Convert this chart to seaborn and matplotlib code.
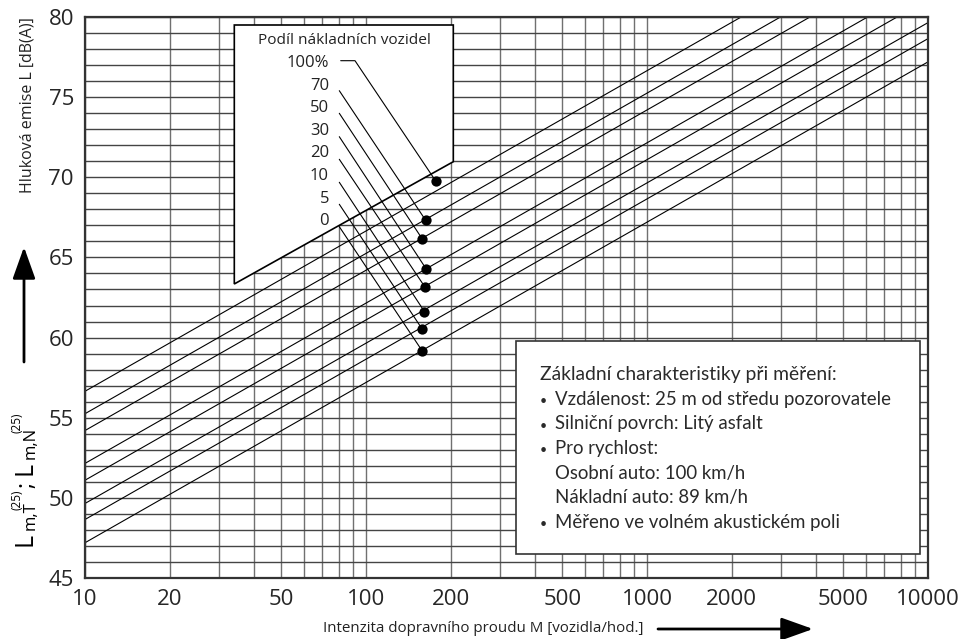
import numpy as np
import pandas as pd
import matplotlib
matplotlib.use('Agg')
import matplotlib.pyplot as plt
import seaborn as sns
from matplotlib.patches import Polygon, Rectangle
from matplotlib.ticker import FixedLocator, LogLocator, MultipleLocator, NullFormatter

# truck share of each line (bottom line -> top line)
shares = [0, 5, 10, 20, 30, 50, 70, 100]
share_labels = ['0', '5', '10', '20', '30', '50', '70', '100%']

# line end points
m_ends = [10, 10000]
level_at_10 = [47.2, 48.65, 49.65, 51.1, 52.15, 54.2, 55.25, 56.65]
level_at_10000 = [77.2, 78.65, 79.65, 81.1, 82.15, 84.2, 85.25, 86.65]

# marked points
dot_m = [158.6, 158.6, 161.5, 162.0, 163.5, 158.6, 163.0, 177.0]
dot_l = [59.16, 60.52, 61.62, 63.16, 64.30, 66.15, 67.32, 69.77]

x_ticks = [10, 20, 50, 100, 200, 500, 1000, 2000, 5000, 10000]
y_ticks = [45, 50, 55, 60, 65, 70, 75, 80]

info_title = 'Základní charakteristiky při měření:'
info_lines = [
    ('•', 'Vzdálenost: 25 m od středu pozorovatele'),
    ('•', 'Silniční povrch: Litý asfalt'),
    ('•', 'Pro rychlost:'),
    ('', 'Osobní auto: 100 km/h'),
    ('', 'Nákladní auto: 89 km/h'),
    ('•', 'Měřeno ve volném akustickém poli'),
]

rows = []
for s, a, b in zip(shares, level_at_10, level_at_10000):
    rows.append({'share': s, 'M': m_ends[0], 'L': a})
    rows.append({'share': s, 'M': m_ends[1], 'L': b})
df = pd.DataFrame(rows)

sns.set_theme(style='white')
plt.rcParams['font.family'] = ['Open Sans', 'DejaVu Sans']

W, H = 963, 639
fig = plt.figure(figsize=(W / 100, H / 100), dpi=100)
ax = fig.add_axes([85 / W, 1 - 578 / H, 843 / W, 561 / H])

# pixel helpers (image coords, origin top-left)
def px2data(px, py):
    return 10 ** (1 + (px - 85) / 281.0), 80 - (py - 17) / 16.03

def fx(px):
    return px / W

def fy(py):
    return 1 - py / H

sns.lineplot(data=df, x='M', y='L', units='share', estimator=None,
             color='black', linewidth=0.8, ax=ax, legend=False, zorder=2)

ax.set_xscale('log')
ax.set_xlim(10, 10000)
ax.set_ylim(45, 80)
ax.xaxis.set_major_locator(FixedLocator(x_ticks))
ax.xaxis.set_major_formatter(matplotlib.ticker.FixedFormatter([str(t) for t in x_ticks]))
ax.xaxis.set_minor_locator(LogLocator(base=10, subs=np.arange(1, 10)))
ax.xaxis.set_minor_formatter(NullFormatter())
ax.yaxis.set_major_locator(FixedLocator(y_ticks))
ax.yaxis.set_minor_locator(MultipleLocator(1))
ax.set_axisbelow(True)
ax.grid(axis='x', which='both', color='#707070', linewidth=1.0)
ax.grid(axis='y', which='both', color='#444444', linewidth=1.0)
ax.tick_params(which='both', length=0)
ax.tick_params(axis='x', labelsize=16, pad=8)
ax.tick_params(axis='y', labelsize=16, pad=8)
ax.set_xlabel('')
ax.set_ylabel('')
for sp in ax.spines.values():
    sp.set_color('#333333')
    sp.set_linewidth(1.6)

# white inset with the truck share labels
corners = [px2data(234.3, 25), px2data(453.3, 25), px2data(453.3, 161.7), px2data(234.3, 284)]
ax.add_patch(Polygon(corners, closed=True, facecolor='white', edgecolor='black',
                     linewidth=1.2, zorder=4))
tx, ty = px2data(344, 41)
ax.text(tx, ty, 'Podíl nákladních vozidel', ha='center', va='center', fontsize=11.1,
        color='#222222', zorder=5)

label_py = [220.7, 198.7, 176, 153.3, 130.7, 108.3, 86, 63.3]
leader_py = [226.7, 204.3, 182.3, 159.3, 136.7, 113.3, 90.7, 60.7]
for lab, lpy, spy, m, l in zip(share_labels, label_py, leader_py, dot_m, dot_l):
    lx, ly = px2data(329, lpy)
    ax.text(lx, ly, lab, ha='right', va='center', fontsize=12, color='#222222', zorder=5)
    if lab == '100%':
        p0 = px2data(340.7, spy)
        p1 = px2data(355, spy)
        xs, ys = [p0[0], p1[0], m], [p0[1], p1[1], l]
    else:
        p0 = px2data(339.3, spy)
        xs, ys = [p0[0], m], [p0[1], l]
    ax.plot(xs, ys, color='black', linewidth=0.8, zorder=5)

sns.scatterplot(x=dot_m, y=dot_l, color='black', s=55, linewidth=0, ax=ax,
                zorder=6, legend=False)

# info box
ax.add_patch(Rectangle((fx(516), fy(554)), fx(920) - fx(516), fy(340.7) - fy(554),
                       transform=fig.transFigure, facecolor='white', edgecolor='#333333',
                       linewidth=1.2, zorder=7))
info_font = ['Lato', 'DejaVu Sans']
fig.text(fx(540), fy(380), info_title, fontsize=13.9, family=info_font,
         color='#2a2a2a', va='baseline', zorder=8)
baselines = [405, 429.5, 454, 478.5, 503, 528]
for (bul, txt), b in zip(info_lines, baselines):
    if bul:
        fig.text(fx(540), fy(b), bul, fontsize=9, family=info_font,
                 color='#2a2a2a', va='baseline', zorder=8)
    fig.text(fx(555), fy(b), txt, fontsize=13.4, family=info_font,
             color='#2a2a2a', va='baseline', zorder=8)

# axis titles
fig.text(fx(27), fy(105), 'Hluková emise L [dB(A)]', rotation=90, ha='center', va='center',
         fontsize=11.5, color='#222222')

# rotated L_{m,T}^(25); L_{m,N}^(25) built piece by piece: (text, size, baseline x, start y)
lab_parts = [
    ('L', 18, 32, 546),
    ('m,T', 12, 35, 530),
    ('(25)', 8.5, 20, 510),
    (';', 17, 32, 488),
    ('L', 18, 32, 475),
    ('m,N', 12, 35, 459),
    ('(25)', 8.5, 20, 433),
]
for txt, size, bx, by in lab_parts:
    fig.text(fx(bx), fy(by), txt, rotation=90, rotation_mode='anchor', ha='left',
             va='baseline', fontsize=size, color='black')

fig.text(fx(323), fy(628), 'Intenzita dopravního proudu M [vozidla/hod.]', ha='left',
         va='center', fontsize=10.9, color='#222222')

# arrows
ax.annotate('', xy=(24, H - 247), xycoords='figure pixels', xytext=(24, H - 362),
            textcoords='figure pixels',
            arrowprops=dict(arrowstyle='-|>,head_length=1.4,head_width=0.5', color='black',
                            lw=2.0, mutation_scale=14, shrinkA=0, shrinkB=0))
ax.annotate('', xy=(813, H - 629), xycoords='figure pixels', xytext=(658, H - 629),
            textcoords='figure pixels',
            arrowprops=dict(arrowstyle='-|>,head_length=1.4,head_width=0.5', color='black',
                            lw=2.0, mutation_scale=14, shrinkA=0, shrinkB=0))

fig.savefig('out.png', dpi=100)
